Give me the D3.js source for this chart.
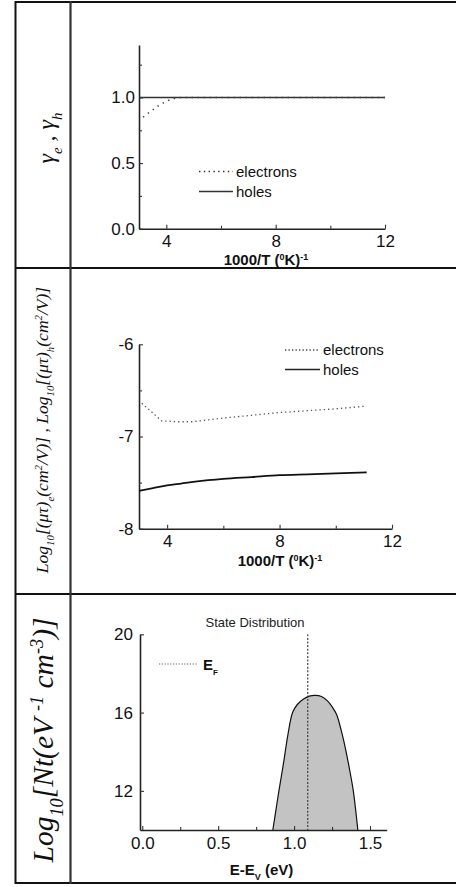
<!DOCTYPE html>
<html>
<head>
<meta charset="utf-8">
<script src="https://cdn.jsdelivr.net/npm/d3@7"></script>
<style>
  body { margin: 0; background: #fff; }
  svg { display: block; }
  .tick text { font-family: "Liberation Sans", Arial, sans-serif; font-size: 17px; fill: #111; }
</style>
</head>
<body>
<script>
// Three stacked panels: gamma factors, mu-tau products, state distribution

// Panel 1 - gamma_e, gamma_h vs 1000/T
var gammaHolesT = [3.0, 12.0];
var gammaHoles = [1.0, 1.0];
var gammaElecT = [3.15, 3.4, 3.7, 4.0, 4.25, 4.6, 5.0, 12.0];
var gammaElec = [0.85, 0.89, 0.935, 0.97, 0.99, 1.0, 1.0, 1.0];
var gammaMajor = [4, 8, 12];
var gammaMinorX = [6, 10];
var gammaYTicks = [0.0, 0.5, 1.0];
var gammaYMinor = [0.25, 0.75, 1.25];

// Panel 2 - log10(mu tau) vs 1000/T
var mtElecT = [3.1, 3.4, 3.8, 4.4, 4.9, 6, 7, 8, 9, 10, 11.1];
var mtElec = [-6.64, -6.72, -6.83, -6.84, -6.84, -6.8, -6.77, -6.74, -6.72, -6.7, -6.67];
var mtHolesT = [3.0, 3.5, 4.0, 4.5, 5, 6, 7, 8, 9, 10, 11.1];
var mtHoles = [-7.59, -7.56, -7.53, -7.51, -7.49, -7.46, -7.44, -7.42, -7.41, -7.4, -7.39];
var mtYTicks = [-8, -7, -6];
var mtYMinor = [-7.5, -6.5];

// Panel 3 - state distribution vs E-Ev
var dosE = [0.86, 0.88, 0.90, 0.93, 0.96, 0.99, 1.02, 1.06, 1.10, 1.14, 1.18, 1.22, 1.25, 1.28, 1.31, 1.34, 1.37, 1.39, 1.42];
var dosN = [10, 11.0, 12.0, 13.4, 14.9, 16.0, 16.4, 16.68, 16.84, 16.88, 16.82, 16.6, 16.3, 15.9, 15.1, 14.1, 12.9, 12.0, 10];
var fermiE = 1.09;
var dosXTicks = [0.0, 0.5, 1.0, 1.5];
var dosXMinor = [0.25, 0.75, 1.25];
var dosYTicks = [12, 16, 20];

var svgWidth = 456;
var svgHeight = 887;

var svg = d3.select("body")
  .append("svg")
  .attr("width", svgWidth)
  .attr("height", svgHeight);

var sans = "'Liberation Sans', Arial, sans-serif";
var serif = "'Liberation Serif', 'Times New Roman', serif";

// table frame
var frame = svg.append("g").attr("stroke", "#111").attr("stroke-width", 2).attr("fill", "none");
frame.append("line").attr("x1", 15.5).attr("x2", 456).attr("y1", 2).attr("y2", 2);
frame.append("line").attr("x1", 15.5).attr("x2", 456).attr("y1", 268).attr("y2", 268);
frame.append("line").attr("x1", 15.5).attr("x2", 456).attr("y1", 594).attr("y2", 594);
frame.append("line").attr("x1", 15.5).attr("x2", 456).attr("y1", 883).attr("y2", 883);
frame.append("line").attr("x1", 15.5).attr("x2", 15.5).attr("y1", 1).attr("y2", 884);
frame.append("line").attr("x1", 70.5).attr("x2", 70.5).attr("y1", 1).attr("y2", 884)
  .attr("stroke", "#333").attr("stroke-width", 2.2);

// plain hyphen for negatives, like the original plot
function hyphenFmt(f) {
  return function (d) { return f(d).replace("\u2212", "-"); };
}

// draw the axes of one panel, ticks pointing inward
function drawAxes(x, y, xMajor, xMinor, yMajor, yMinor, xFmt, yFmt, xPad, yPad) {
  var g = svg.append("g");
  var bottom = d3.axisBottom(x).tickValues(xMajor).tickFormat(xFmt)
    .tickSizeInner(-4).tickSizeOuter(0).tickPadding(xPad);
  var left = d3.axisLeft(y).tickValues(yMajor).tickFormat(yFmt)
    .tickSizeInner(-4).tickSizeOuter(0).tickPadding(yPad);

  g.append("g").attr("transform", "translate(0," + y.range()[0] + ")").call(bottom);
  g.append("g").attr("transform", "translate(" + x.range()[0] + ",0)").call(left);

  if (xMinor.length) {
    g.append("g").attr("transform", "translate(0," + y.range()[0] + ")")
      .call(d3.axisBottom(x).tickValues(xMinor).tickFormat("").tickSizeInner(-3).tickSizeOuter(0))
      .select(".domain").remove();
  }
  if (yMinor.length) {
    g.append("g").attr("transform", "translate(" + x.range()[0] + ",0)")
      .call(d3.axisLeft(y).tickValues(yMinor).tickFormat("").tickSizeInner(-3).tickSizeOuter(0))
      .select(".domain").remove();
  }
  g.selectAll(".domain").attr("stroke", "#222").attr("stroke-width", 1.6);
  g.selectAll(".tick line").attr("stroke", "#333").attr("stroke-width", 1.1);
  return g;
}

function xTitle(cx, cy, parts) {
  var t = svg.append("text")
    .attr("x", cx).attr("y", cy)
    .attr("text-anchor", "middle")
    .attr("font-family", sans)
    .attr("font-weight", "bold")
    .attr("font-size", 15)
    .attr("fill", "#111");
  parts.forEach(function (p) {
    t.append("tspan")
      .attr("baseline-shift", p.shift || null)
      .attr("font-size", p.small ? 9 : null)
      .text(p.t);
  });
  return t;
}

function legendRow(x1, x2, yy, dash, width, label, color) {
  svg.append("line")
    .attr("x1", x1).attr("x2", x2).attr("y1", yy).attr("y2", yy)
    .attr("stroke", color).attr("stroke-width", width)
    .attr("stroke-dasharray", dash);
  svg.append("text")
    .attr("x", x2 + 3).attr("y", yy + 5)
    .attr("font-family", sans).attr("font-size", 15).attr("fill", "#111")
    .text(label);
}

function leftLabel(cx, cy, size, parts) {
  var t = svg.append("text")
    .attr("transform", "translate(" + cx + "," + cy + ") rotate(-90)")
    .attr("text-anchor", "middle")
    .attr("font-family", serif)
    .attr("font-style", "italic")
    .attr("font-size", size)
    .attr("fill", "#111");
  parts.forEach(function (p) {
    t.append("tspan")
      .attr("baseline-shift", p.shift || null)
      .attr("font-size", p.small ? size * 0.62 : null)
      .text(p.t);
  });
}

var fmt1 = d3.format(".1f");
var fmtInt = hyphenFmt(d3.format("d"));

// ---------- Panel 1 ----------
var x1 = d3.scaleLinear().domain([3, 12]).range([139, 385]);
var y1 = d3.scaleLinear().domain([0, 1.4]).range([228.7, 45]);
drawAxes(x1, y1, gammaMajor, gammaMinorX, gammaYTicks, gammaYMinor, fmtInt, fmt1, 6, 4);

var line1h = d3.line().x((d, i) => x1(gammaHolesT[i])).y(d => y1(d));
svg.append("path").attr("d", line1h(gammaHoles))
  .attr("fill", "none").attr("stroke", "#333").attr("stroke-width", 1.6);
var line1e = d3.line().x((d, i) => x1(gammaElecT[i])).y(d => y1(d)).curve(d3.curveMonotoneX);
svg.append("path").attr("d", line1e(gammaElec))
  .attr("fill", "none").attr("stroke", "#444").attr("stroke-width", 1.6)
  .attr("stroke-dasharray", "1.4,4.6");

legendRow(199, 233, 171.5, "1.4,3.4", 1.4, "electrons", "#333");
legendRow(199, 233, 191.5, null, 1.4, "holes", "#333");

xTitle(266, 265, [
  { t: "1000/T (" }, { t: "0", shift: "super", small: true }, { t: "K)" }, { t: "-1", shift: "super", small: true }
]);

leftLabel(54, 138, 24, [
  { t: "γ" }, { t: "e", shift: "sub", small: true }, { t: " , γ" }, { t: "h", shift: "sub", small: true }
]);

// ---------- Panel 2 ----------
var x2 = d3.scaleLinear().domain([3, 12]).range([139, 392]);
var y2 = d3.scaleLinear().domain([-8, -6]).range([528.7, 344.3]);
drawAxes(x2, y2, gammaMajor, gammaMinorX, mtYTicks, mtYMinor, fmtInt, fmtInt, 6, 5.5);

var line2e = d3.line().x((d, i) => x2(mtElecT[i])).y(d => y2(d));
svg.append("path").attr("d", line2e(mtElec))
  .attr("fill", "none").attr("stroke", "#555").attr("stroke-width", 1.3)
  .attr("stroke-dasharray", "1.3,3");
var line2h = d3.line().x((d, i) => x2(mtHolesT[i])).y(d => y2(d)).curve(d3.curveMonotoneX);
svg.append("path").attr("d", line2h(mtHoles))
  .attr("fill", "none").attr("stroke", "#111").attr("stroke-width", 1.8);

legendRow(285, 320, 350, "1.3,2.2", 1.3, "electrons", "#444");
legendRow(285, 320, 369.5, null, 1.4, "holes", "#222");

xTitle(280, 566, [
  { t: "1000/T (" }, { t: "0", shift: "super", small: true }, { t: "K)" }, { t: "-1", shift: "super", small: true }
]);

leftLabel(48, 430, 17.5, [
  { t: "Log" }, { t: "10", shift: "sub", small: true }, { t: "[(μτ)" }, { t: "e", shift: "sub", small: true },
  { t: "(cm" }, { t: "2", shift: "super", small: true }, { t: "/V)] , Log" }, { t: "10", shift: "sub", small: true },
  { t: "[(μτ)" }, { t: "h", shift: "sub", small: true }, { t: "(cm" }, { t: "2", shift: "super", small: true },
  { t: "/V)]" }
]);

// ---------- Panel 3 ----------
var x3 = d3.scaleLinear().domain([-0.015, 1.61]).range([140, 386.7]);
var y3 = d3.scaleLinear().domain([10, 20]).range([830, 634.3]);

var area3 = d3.area().x((d, i) => x3(dosE[i])).y0(y3(10)).y1(d => y3(d)).curve(d3.curveCatmullRom);
svg.append("path").attr("d", area3(dosN)).attr("fill", "#c3c3c3");
var line3 = d3.line().x((d, i) => x3(dosE[i])).y(d => y3(d)).curve(d3.curveCatmullRom);
svg.append("path").attr("d", line3(dosN))
  .attr("fill", "none").attr("stroke", "#111").attr("stroke-width", 1.2);

svg.append("line")
  .attr("x1", x3(fermiE)).attr("x2", x3(fermiE))
  .attr("y1", y3(20)).attr("y2", y3(10))
  .attr("stroke", "#333").attr("stroke-width", 1.1).attr("stroke-dasharray", "2,1.6");

drawAxes(x3, y3, dosXTicks, dosXMinor, dosYTicks, [], fmt1, fmtInt, 6.5, 7);

// E_F legend
svg.append("line")
  .attr("x1", 159).attr("x2", 197).attr("y1", 664).attr("y2", 664)
  .attr("stroke", "#666").attr("stroke-width", 1).attr("stroke-dasharray", "1.2,1.6");
var ef = svg.append("text")
  .attr("x", 203).attr("y", 670)
  .attr("font-family", sans).attr("font-weight", "bold").attr("font-size", 15).attr("fill", "#111");
ef.append("tspan").text("E");
ef.append("tspan").attr("baseline-shift", "sub").attr("font-size", 8).text("F");

svg.append("text")
  .attr("x", 255).attr("y", 627)
  .attr("text-anchor", "middle")
  .attr("font-family", sans).attr("font-size", 13).attr("fill", "#222")
  .text("State Distribution");

xTitle(261.5, 875, [
  { t: "E-E" }, { t: "V", shift: "sub", small: true }, { t: " (eV)" }
]);

leftLabel(53, 740, 29.5, [
  { t: "Log" }, { t: "10", shift: "sub", small: true }, { t: "[Nt(eV " }, { t: "-1", shift: "super", small: true },
  { t: " cm" }, { t: "-3", shift: "super", small: true }, { t: ")]" }
]);
</script>
</body>
</html>
